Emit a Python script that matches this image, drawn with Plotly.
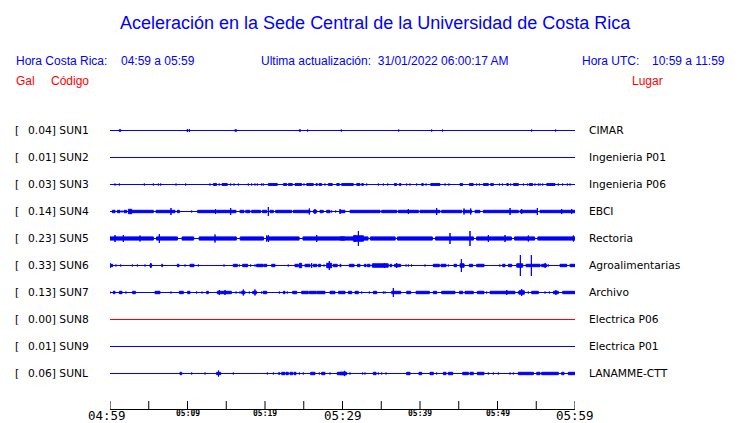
import plotly.graph_objects as go

W, H = 740, 423

# ---------------- data ----------------
CODES = ["SUN1", "SUN2", "SUN3", "SUN4", "SUN5", "SUN6", "SUN7", "SUN8", "SUN9", "SUNL"]
PEAK_GAL = [0.04, 0.01, 0.03, 0.14, 0.23, 0.33, 0.13, 0.00, 0.01, 0.06]
PLACES = ["CIMAR", "Ingenieria P01", "Ingenieria P06", "EBCI", "Rectoria",
          "Agroalimentarias", "Archivo", "Electrica P06", "Electrica P01", "LANAMME-CTT"]
TRACE_COLORS = ["#0000ff"] * 7 + ["#ff0000", "#0000ff", "#0000ff"]

TICK_MINUTES = list(range(0, 61, 5))
LABEL_MINUTES = [0, 10, 20, 30, 40, 50, 60]
LABEL_TEXT = ["04:59", "05:09", "05:19", "05:29", "05:39", "05:49", "05:59"]
LABEL_MAJOR = [True, False, False, True, False, False, True]

# events per station: (start minute, end minute, half amplitude, relative units)
SUN1 = [(1.16, 1.42, 1.5), (9.98, 9.98, 2), (10.24, 10.24, 2), (16.1, 16.35, 1.5), (24.4, 24.6, 1.5),
        (25.5, 25.5, 1.5), (29.85, 29.85, 1.5), (37.25, 37.25, 1.5), (41.5, 41.5, 1.5), (42.9, 42.9, 1.5),
        (51.1, 51.1, 1), (52.2, 52.2, 1), (54.4, 54.4, 1.5), (55.0, 55.0, 1), (57.5, 57.5, 1.5)]
SUN2 = []
SUN3 = [(0.65, 0.65, 1.5), (1.2, 1.2, 1.5), (2.0, 2.0, 1), (4.43, 4.43, 1.5), (5.59, 5.59, 1.5), (6.24, 6.24, 1.5),
        (6.54, 6.54, 1.5), (7.01, 7.01, 1), (8.52, 8.52, 1.5), (9.76, 9.76, 1.5), (11.44, 11.44, 1),
        (12.47, 12.47, 1), (12.9, 12.9, 1.5), (13.33, 13.76, 1.7), (14.1, 14.1, 1.5), (14.45, 15.14, 1.7),
        (15.57, 15.57, 1.5), (16.0, 16.0, 1.5), (16.56, 16.56, 1.5), (17.85, 17.85, 1.5), (18.28, 18.28, 1.5),
        (18.71, 18.71, 1.5), (19.01, 19.01, 1.5), (19.57, 19.57, 1.5), (19.78, 19.78, 1.5), (20.43, 21.59, 1.7),
        (22.37, 22.8, 1.7), (23.01, 23.53, 1.7), (23.87, 24.73, 1.7), (25.03, 25.03, 1.5), (25.38, 26.24, 1.7),
        (26.58, 26.75, 1.7), (26.97, 27.31, 1.7), (27.74, 27.74, 1.5), (28.17, 28.69, 1.7), (29.25, 29.59, 1.7),
        (29.89, 31.4, 1.7), (31.83, 32.26, 1.7), (32.48, 32.69, 1.7), (33.12, 33.12, 1.5), (34.63, 34.63, 1.5),
        (35.27, 35.27, 1.5), (35.83, 35.83, 1.5), (36.69, 36.99, 1.7), (37.34, 37.55, 1.7), (38.28, 38.28, 1.5),
        (38.71, 38.71, 1.5), (39.57, 39.57, 1.5), (40.22, 40.43, 1.7), (40.78, 40.78, 1.5), (41.38, 42.58, 1.7),
        (43.23, 43.23, 1.5), (43.74, 43.74, 1.5), (45.16, 45.51, 1.7), (46.37, 46.88, 1.7), (47.31, 47.31, 1.5),
        (47.66, 47.66, 1.5), (48.17, 48.82, 1.7), (49.12, 49.47, 1.7), (50.24, 50.24, 1.5), (50.63, 50.63, 1.5),
        (51.19, 51.4, 1.7), (51.7, 51.7, 1.5), (52.05, 52.69, 1.7), (53.34, 53.34, 1.5), (53.89, 53.89, 1.5),
        (54.11, 54.54, 1.7), (54.84, 54.84, 1.5), (55.27, 55.27, 1.5), (55.49, 55.49, 1.5), (55.83, 55.83, 1.5),
        (56.35, 57.42, 1.7), (57.85, 57.85, 1.5), (58.41, 58.41, 1.5), (59.01, 59.01, 1.5), (59.36, 59.36, 1.5)]
SUN4 = [(0.3, 0.65, 2), (0.95, 1.29, 2), (1.55, 1.55, 1.5), (1.81, 2.15, 2), (2.37, 2.8, 3), (2.8, 5.59, 2),
        (5.94, 8.39, 2), (7.87, 7.87, 4), (8.69, 8.95, 2), (9.98, 9.98, 1), (10.54, 10.54, 1.5),
        (11.31, 13.55, 2), (13.63, 13.63, 3), (13.76, 16.26, 2), (15.57, 15.57, 4), (16.77, 17.29, 2),
        (17.51, 18.06, 2), (18.28, 19.44, 2), (19.66, 20.22, 2), (20.43, 20.43, 5), (20.65, 21.08, 2),
        (21.38, 23.44, 2), (23.66, 25.81, 2), (25.72, 25.72, 3.5), (26.24, 26.67, 2), (26.45, 26.45, 3),
        (27.1, 27.44, 2), (27.53, 27.53, 1.5), (27.96, 28.39, 2), (28.6, 28.6, 1.5), (29.12, 29.12, 1.5),
        (29.68, 29.68, 3), (29.68, 30.32, 2), (30.97, 34.84, 2), (35.06, 37.0, 2), (37.21, 39.79, 2),
        (38.5, 38.5, 3), (40.0, 42.58, 2), (42.15, 42.15, 4), (42.8, 45.38, 2), (45.6, 46.67, 2),
        (45.68, 45.68, 3.5), (46.54, 46.54, 3.5), (47.1, 47.74, 2), (48.17, 52.69, 2), (51.62, 51.62, 4),
        (52.9, 55.06, 2), (53.12, 53.12, 3), (55.14, 55.14, 4), (55.49, 60.0, 2), (58.28, 58.28, 3),
        (59.57, 59.57, 3)]
SUN5 = [(0.0, 5.6, 2.4), (6.0, 8.7, 2.4), (9.3, 10.8, 2.4), (11.5, 16.3, 2.4), (16.8, 19.8, 2.4),
        (20.2, 24.4, 2.4), (24.9, 30.3, 2.4), (29.7, 33.3, 2.4), (31.4, 32.7, 3.5), (33.6, 36.8, 2.4),
        (37.1, 41.6, 2.4), (42.0, 46.9, 2.4), (47.3, 51.8, 2.4), (52.2, 54.8, 2.4), (55.2, 60.0, 2.4),
        (0.65, 0.65, 4), (1.72, 1.72, 4), (3.87, 3.87, 3.5), (6.37, 6.37, 5), (13.55, 13.55, 4.5),
        (20.2, 20.2, 3.5), (20.43, 20.43, 4), (26.67, 26.67, 4), (31.62, 31.62, 4), (32.05, 32.05, 8),
        (43.87, 43.87, 6), (46.45, 46.45, 8), (48.82, 48.82, 4), (50.97, 50.97, 4), (53.98, 53.98, 3.5),
        (59.79, 59.79, 3.5)]
SUN6 = [(0.0, 0.34, 2), (0.0, 0.0, 3), (0.77, 0.77, 1.5), (1.38, 1.38, 1.5), (2.88, 2.88, 1.5), (3.53, 3.53, 1.5),
        (4.52, 4.52, 1.5), (5.16, 5.38, 2), (5.27, 5.27, 3), (6.67, 6.8, 2), (7.44, 7.44, 1), (8.17, 8.17, 1),
        (8.69, 8.9, 2), (9.68, 9.68, 1.5), (10.32, 10.84, 2), (11.4, 11.4, 1.5), (13.33, 13.33, 1),
        (14.71, 14.71, 1.5), (15.91, 16.43, 2), (16.69, 16.69, 1.5), (17.12, 17.76, 2), (18.15, 18.15, 1.5),
        (18.71, 18.71, 1.5), (18.92, 19.78, 2), (19.91, 20.22, 2), (20.86, 21.29, 2), (22.67, 22.67, 1),
        (23.0, 23.0, 1.5), (23.87, 24.3, 2), (24.43, 24.73, 3), (25.16, 25.81, 2), (26.02, 26.02, 3),
        (26.24, 26.67, 2), (26.88, 27.18, 2), (27.61, 27.61, 1.5), (27.96, 28.6, 3), (28.3, 28.3, 5),
        (28.82, 29.33, 2), (29.68, 29.8, 2), (30.88, 31.49, 2), (31.92, 32.26, 2), (32.82, 33.03, 2),
        (33.2, 33.55, 2), (33.85, 35.9, 2.5), (35.4, 35.4, 3), (36.13, 36.35, 2), (36.7, 37.5, 2),
        (36.99, 36.99, 3), (38.2, 38.2, 1.5), (38.5, 38.5, 1.5), (38.9, 38.9, 1.5), (40.65, 40.65, 1.5),
        (41.72, 42.5, 2), (42.71, 43.36, 2), (43.66, 43.66, 1.5), (44.39, 44.73, 2), (45.17, 45.69, 2.5),
        (45.34, 45.34, 7), (46.37, 46.8, 2), (47.31, 48.26, 2), (50.3, 50.3, 1.5), (50.67, 50.97, 2),
        (51.4, 51.83, 2), (52.48, 53.25, 2.5), (52.95, 52.95, 11), (53.68, 55.49, 2), (54.37, 54.37, 11),
        (55.7, 56.35, 2), (56.15, 56.15, 3), (56.56, 56.56, 1.5), (58.07, 58.93, 2), (59.36, 60.0, 2)]
SUN7 = [(0.0, 0.0, 1.5), (0.43, 0.65, 2), (1.2, 1.55, 2), (2.06, 2.06, 1.5), (2.92, 3.27, 2), (5.81, 6.45, 2),
        (7.87, 7.87, 1.5), (8.95, 9.46, 2), (10.02, 10.32, 2), (11.18, 11.18, 1.5), (11.87, 11.87, 1.5),
        (12.47, 12.69, 2), (13.55, 13.55, 1), (13.85, 15.66, 2), (14.11, 14.11, 3), (14.84, 14.84, 3),
        (16.26, 16.26, 1.5), (16.77, 16.77, 1.5), (16.99, 17.42, 2), (17.2, 17.2, 3.5), (17.98, 17.98, 1.5),
        (18.41, 18.92, 2), (18.71, 18.71, 3.5), (19.57, 19.57, 1.5), (19.78, 20.22, 2), (21.85, 21.85, 1.5),
        (22.37, 22.58, 2), (22.88, 22.88, 1.5), (23.57, 24.09, 2), (24.73, 25.59, 2), (25.72, 26.58, 2),
        (26.67, 27.74, 2), (28.39, 29.03, 2), (29.5, 30.33, 2), (30.76, 31.19, 2), (31.62, 32.05, 2),
        (32.48, 32.48, 1.5), (33.46, 33.46, 1.5), (33.98, 34.41, 2), (35.27, 35.27, 1.5), (35.49, 35.49, 1.5),
        (36.35, 37.51, 2), (36.56, 36.56, 5), (38.28, 38.8, 2), (39.49, 41.21, 2), (41.72, 42.15, 2),
        (42.8, 44.52, 2), (45.08, 45.51, 2), (45.81, 46.88, 2), (47.4, 48.26, 2), (48.6, 48.6, 1.5),
        (49.04, 52.26, 2), (51.19, 51.19, 3), (52.69, 52.69, 1.5), (52.78, 53.46, 2.5), (53.12, 53.12, 4),
        (53.98, 53.98, 1.5), (54.41, 55.27, 2), (56.13, 56.13, 1.5), (56.69, 56.69, 1.5), (57.21, 57.85, 2),
        (57.53, 57.53, 3), (58.41, 60.0, 2)]
SUN8 = []
SUN9 = []
SUNL = [(8.39, 8.39, 1), (9.03, 9.25, 2), (10.54, 10.54, 1.5), (12.26, 12.26, 1.5), (13.76, 14.28, 2),
        (14.0, 14.0, 3.5), (15.91, 15.91, 1.5), (18.92, 18.92, 1), (20.3, 20.3, 1.5), (21.08, 21.08, 1.5),
        (21.72, 21.94, 1.5), (22.15, 22.58, 2), (22.71, 23.01, 2), (23.23, 23.57, 2), (23.74, 24.0, 2),
        (24.43, 24.43, 1.5), (24.95, 24.95, 1.5), (25.89, 26.45, 2), (27.01, 27.01, 1.5), (27.31, 27.74, 2),
        (28.39, 28.39, 1.5), (29.33, 30.11, 2), (30.2, 30.32, 3), (29.68, 30.54, 2), (30.97, 30.97, 1.5),
        (32.6, 32.6, 1.5), (32.9, 32.9, 1.5), (33.98, 34.33, 2), (34.63, 34.63, 1.5), (35.06, 35.06, 1.5),
        (35.62, 35.62, 1.5), (37.08, 37.08, 1), (38.28, 38.71, 2), (39.87, 40.22, 2), (41.29, 41.72, 2),
        (42.15, 42.15, 1.5), (43.01, 43.36, 2), (43.66, 44.22, 2), (45.51, 46.24, 2), (46.45, 46.88, 2),
        (47.4, 48.26, 2), (48.82, 48.82, 1.5), (49.47, 49.47, 1.5), (50.11, 50.11, 1.5), (51.62, 51.62, 1.5),
        (52.05, 52.05, 1.5), (52.69, 54.63, 2), (55.06, 55.49, 2), (55.7, 57.85, 2), (58.28, 58.58, 2),
        (59.14, 60.0, 2)]
EVENTS = [SUN1, SUN2, SUN3, SUN4, SUN5, SUN6, SUN7, SUN8, SUN9, SUNL]

# ---------------- layout helpers ----------------
ROW_PX = 27.0          # pixel spacing between station rows
ROW0_PX = 130.5        # pixel centre of first row
X0_PX, X1_PX = 110, 575
AXIS_PX = 409.5
TICK_TOP_PX = 401.0


def px(x):
    return x / W


def py(y):
    return 1 - y / H


fig = go.Figure()

for i, (code, ev, col) in enumerate(zip(CODES, EVENTS, TRACE_COLORS)):
    fig.add_trace(go.Scatter(x=[0, 60], y=[i, i], mode="lines",
                             line=dict(color=col, width=1), hoverinfo="skip", showlegend=False))
    if ev:
        xs, ys = [], []
        for t0, t1, a in ev:
            shrink = 0.5 if t1 == t0 else 0.8
            h = max(a - shrink, 0.2) / ROW_PX
            xs += [t0, t1, t1, t0, t0, None]
            ys += [i - h, i - h, i + h, i + h, i - h, None]
        fig.add_trace(go.Scatter(x=xs, y=ys, mode="lines", fill="toself", fillcolor=col,
                                 line=dict(color=col, width=1), hoverinfo="skip", showlegend=False))

ann = []
BLUE, RED = "#0000ff", "#ff0000"
HF = "Liberation Sans"


def text(x, y, s, size, color, family, xanchor="left", xref="paper", xshift=0, weight="normal"):
    ann.append(dict(x=x, y=y, xref=xref, yref="paper", text=s, showarrow=False,
                    xanchor=xanchor, yanchor="middle", xshift=xshift,
                    font=dict(size=size, color=color, family=family, weight=weight), borderpad=0))


text(px(375), py(23), "Aceleración en la Sede Central de la Universidad de Costa Rica", 18, BLUE, HF, "center")
text(px(15), py(61), "Hora Costa Rica:", 12, BLUE, HF)
text(px(120), py(61), "04:59 a 05:59", 12, BLUE, HF)
text(px(260), py(61), "Ultima actualización:  31/01/2022 06:00:17 AM", 12, BLUE, HF)
text(px(580.5), py(61), "Hora UTC:", 12, BLUE, HF)
text(px(651), py(61), "10:59 a 11:59", 12, BLUE, HF)
text(px(15), py(81), "Gal", 12, RED, HF)
text(px(50), py(81), "Código", 12, RED, HF)
text(px(631), py(81), "Lugar", 12, RED, HF)

for i, (code, g, place) in enumerate(zip(CODES, PEAK_GAL, PLACES)):
    yc = py(ROW0_PX + ROW_PX * i)
    text(px(14), yc, "[", 10.7, "black", "DejaVu Sans")
    text(px(27), yc, f"{g:.2f}] {code}", 10.7, "black", "DejaVu Sans")
    text(px(588), yc, place, 10.7, "black", "DejaVu Sans")

for m, lab, major in zip(LABEL_MINUTES, LABEL_TEXT, LABEL_MAJOR):
    if major:
        text(m, py(415.5), lab, 12.5, "black", "DejaVu Sans Mono", "center", "x",
             xshift=-3.5 if m == 0 else 0)
    else:
        text(m, py(413.5), lab, 8, "black", "DejaVu Sans Mono", "center", "x", weight="bold")

shapes = [dict(type="line", xref="x", yref="paper", x0=TICK_MINUTES[0], x1=TICK_MINUTES[-1],
               y0=py(AXIS_PX), y1=py(AXIS_PX), line=dict(color="black", width=1))]
for m in TICK_MINUTES:
    shapes.append(dict(type="line", xref="x", yref="paper", x0=m, x1=m,
                       y0=py(AXIS_PX), y1=py(TICK_TOP_PX), line=dict(color="black", width=1)))

fig.update_layout(
    width=W, height=H, margin=dict(l=0, r=0, t=0, b=0),
    paper_bgcolor="white", plot_bgcolor="white", showlegend=False,
    xaxis=dict(domain=[px(X0_PX), px(X1_PX)], range=[0, 60], visible=False,
               showgrid=False, zeroline=False, fixedrange=True),
    yaxis=dict(domain=[0, 1], range=[(H - ROW0_PX) / ROW_PX, -ROW0_PX / ROW_PX], visible=False,
               showgrid=False, zeroline=False, fixedrange=True),
    annotations=ann,
    shapes=shapes,
)

fig.write_html("out.html", config={"displayModeBar": False})
with open("out.html", encoding="utf-8") as f:
    html = f.read()
html = html.replace("<head>", "<head><style>html,body{margin:0;padding:0;overflow:hidden;}</style>", 1)
with open("out.html", "w", encoding="utf-8") as f:
    f.write(html)
